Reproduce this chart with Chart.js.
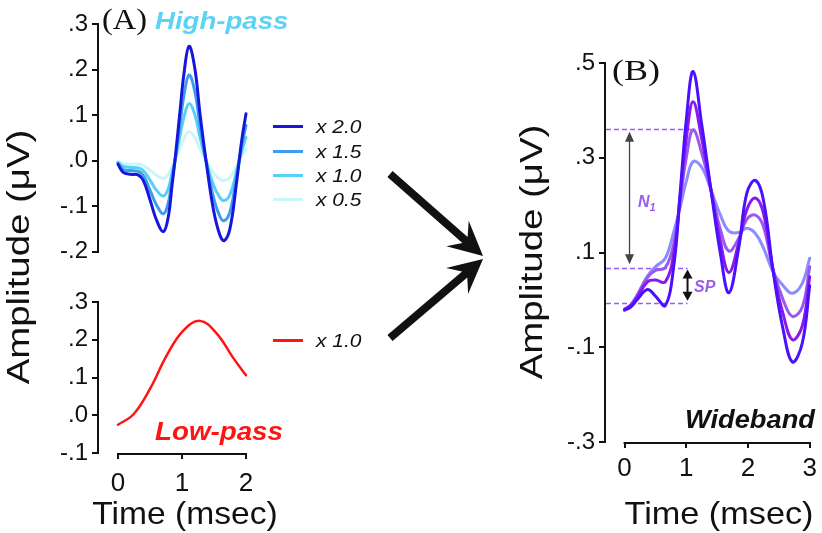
<!DOCTYPE html>
<html lang="en">
  <head>
    <meta charset="UTF-8" />
    <title>High-pass + low-pass = wideband</title>
    <style>
      * {
        margin: 0;
        padding: 0;
        box-sizing: border-box;
      }
      body {
        width: 822px;
        height: 533px;
        position: relative;
        overflow: hidden;
        background: #fff;
        font-family: "Liberation Sans", Arial, sans-serif;
        color: #111;
      }
      canvas,
      svg {
        position: absolute;
      }
      .txt {
        position: absolute;
        white-space: nowrap;
        line-height: 1;
        transform-origin: left center;
      }
      .bi {
        font-weight: bold;
        font-style: italic;
      }
      .serif {
        font-family: "Liberation Serif", "Times New Roman", serif;
      }
      .axisTitle {
        width: 300px;
        text-align: center;
        font-size: 32px;
        transform-origin: center center;
      }
      .key {
        position: absolute;
        left: 273px;
        width: 30px;
        height: 3px;
      }
      .keyTxt {
        left: 316px;
        font-size: 19px;
        font-style: italic;
        transform: scaleX(1.1);
      }
    </style>
  </head>
  <body>
    <canvas id="hpChart" width="270" height="270" style="left: 0; top: 0"></canvas>
    <canvas id="lpChart" width="270" height="263" style="left: 0; top: 270px"></canvas>
    <canvas id="wbChart" width="332" height="533" style="left: 490px; top: 0"></canvas>
    <svg id="arrows" width="822" height="533" style="left: 0; top: 0"></svg>

    <div class="txt serif" style="left: 102px; top: 4px; font-size: 30px; transform: scaleX(1.08)">(A)</div>
    <div class="txt bi" style="left: 155px; top: 9px; font-size: 24px; color: #5dd3f3; transform: scaleX(1.15)">High-pass</div>
    <div class="txt bi" style="left: 155px; top: 419px; font-size: 25px; color: #ff1414; transform: scaleX(1.11)">Low-pass</div>
    <div class="txt serif" style="left: 612px; top: 55px; font-size: 30px; transform: scaleX(1.2)">(B)</div>
    <div class="txt bi" style="left: 685px; top: 407px; font-size: 25px; transform: scaleX(1.09)">Wideband</div>
    <div class="txt bi" style="left: 638px; top: 194px; font-size: 16px; color: #9b5cf0">N<span style="font-size: 11px; vertical-align: -4px">1</span></div>
    <div class="txt bi" style="left: 694px; top: 279px; font-size: 16px; color: #9b5cf0">SP</div>

    <div class="txt axisTitle" style="left: -132px; top: 241px; transform: rotate(-90deg) scaleX(1.2)">Amplitude (μV)</div>
    <div class="txt axisTitle" style="left: 381px; top: 236px; transform: rotate(-90deg) scaleX(1.2)">Amplitude (μV)</div>
    <div class="txt axisTitle" style="left: 35px; top: 497px; transform: scaleX(1.05)">Time (msec)</div>
    <div class="txt axisTitle" style="left: 569px; top: 497px; transform: scaleX(1.07)">Time (msec)</div>

    <div class="key" style="top: 124.5px; background: #1616dc"></div>
    <div class="key" style="top: 149.5px; background: #3c9df0"></div>
    <div class="key" style="top: 173.5px; background: #57cff6"></div>
    <div class="key" style="top: 197.5px; background: #c9f5fb"></div>
    <div class="key" style="top: 338.5px; background: #ff1414"></div>
    <div class="txt keyTxt" style="top: 117px">x 2.0</div>
    <div class="txt keyTxt" style="top: 142px">x 1.5</div>
    <div class="txt keyTxt" style="top: 166px">x 1.0</div>
    <div class="txt keyTxt" style="top: 190px">x 0.5</div>
    <div class="txt keyTxt" style="top: 331px">x 1.0</div>

    <script src="https://cdn.jsdelivr.net/npm/chart.js"></script>
    <script>
      // high-pass components (msec, uV)
      const hpTime = [0, 0.08, 0.2, 0.32, 0.4, 0.5, 0.6, 0.71, 0.79, 0.84, 0.89, 0.97, 1.03, 1.11, 1.2, 1.28, 1.38, 1.49, 1.59, 1.66, 1.75, 1.85, 1.93, 2.0];
      const hpX20 = [-0.008, -0.026, -0.03, -0.032, -0.045, -0.086, -0.13, -0.156, -0.12, -0.06, 0.0, 0.11, 0.19, 0.251, 0.203, 0.104, -0.005, -0.107, -0.163, -0.176, -0.149, -0.051, 0.041, 0.103];
      const hpX15 = [-0.006, -0.02, -0.022, -0.024, -0.034, -0.065, -0.097, -0.117, -0.09, -0.045, 0.0, 0.083, 0.143, 0.188, 0.152, 0.078, -0.004, -0.08, -0.122, -0.132, -0.112, -0.038, 0.031, 0.077];
      const hpX10 = [-0.004, -0.013, -0.015, -0.016, -0.023, -0.043, -0.065, -0.078, -0.06, -0.03, 0.0, 0.055, 0.095, 0.125, 0.101, 0.052, -0.003, -0.053, -0.081, -0.088, -0.075, -0.025, 0.02, 0.051];
      const hpX05 = [-0.002, -0.007, -0.008, -0.008, -0.011, -0.021, -0.032, -0.039, -0.03, -0.015, 0.0, 0.028, 0.048, 0.063, 0.051, 0.026, -0.001, -0.027, -0.041, -0.044, -0.037, -0.013, 0.01, 0.026];

      // low-pass component
      const lpTime = [0, 0.24, 0.5, 0.76, 1.02, 1.28, 1.54, 1.8, 2.0];
      const lpX10 = [-0.025, 0.002, 0.07, 0.158, 0.224, 0.25, 0.217, 0.152, 0.106];

      // wideband sums
      const wbTime = [0, 0.1, 0.2, 0.37, 0.5, 0.66, 0.8, 0.9, 1.0, 1.11, 1.25, 1.4, 1.55, 1.69, 1.85, 1.98, 2.12, 2.25, 2.41, 2.57, 2.72, 2.88, 3.0];
      const wbX20 = [-0.022, -0.015, 0.0, 0.022, 0.008, -0.012, 0.075, 0.225, 0.38, 0.482, 0.37, 0.232, 0.1, 0.015, 0.11, 0.225, 0.252, 0.211, 0.058, -0.063, -0.131, -0.091, 0.03];
      const wbX15 = [-0.02, -0.012, 0.005, 0.038, 0.042, 0.038, 0.1, 0.218, 0.34, 0.418, 0.34, 0.232, 0.125, 0.058, 0.12, 0.19, 0.215, 0.183, 0.06, -0.03, -0.084, -0.055, 0.049];
      const wbX10 = [-0.02, -0.011, 0.008, 0.047, 0.062, 0.068, 0.12, 0.21, 0.3, 0.359, 0.31, 0.232, 0.15, 0.103, 0.13, 0.17, 0.179, 0.155, 0.062, 0.0, -0.035, -0.015, 0.07];
      const wbX05 = [-0.02, -0.01, 0.01, 0.05, 0.07, 0.088, 0.145, 0.195, 0.25, 0.292, 0.28, 0.232, 0.18, 0.145, 0.142, 0.151, 0.14, 0.11, 0.058, 0.03, 0.014, 0.035, 0.088];

      // tick labels
      const hpTicks = [-0.2, -0.1, 0, 0.1, 0.2, 0.3];
      const lpTicks = [-0.1, 0, 0.1, 0.2, 0.3];
      const wbTicks = [-0.3, -0.1, 0.1, 0.3, 0.5];
      const leftTimeTicks = [0, 1, 2];
      const wbTimeTicks = [0, 1, 2, 3];

      // N1 / SP measurement levels
      const guideLevels = [0.361, 0.068, -0.006];
      const guideEnds = [1.11, 1.02, 1.02];
      const n1Span = [0.355, 0.075];
      const spSpan = [0.064, -0.002];

      Chart.defaults.font.family = '"Liberation Sans", Arial, sans-serif';
      Chart.defaults.color = "#111";

      function fmtTick(v) {
        const s = Math.abs(v).toFixed(1).replace(/^0/, "");
        return (v < -1e-9 ? "-" : "") + s;
      }

      function lineSet(label, times, vals, color, width) {
        return {
          label: label,
          data: times.map((t, i) => ({ x: t, y: vals[i] })),
          borderColor: color,
          borderWidth: width,
          pointRadius: 0,
          showLine: true,
          fill: false,
          tension: 0.4,
          borderCapStyle: "round",
          borderJoinStyle: "round",
        };
      }

      function yScale(min, max, ticks, width) {
        return {
          type: "linear",
          min: min,
          max: max,
          afterBuildTicks: (s) => {
            s.ticks = ticks.map((v) => ({ value: v }));
          },
          afterFit: (s) => {
            s.width = width;
          },
          border: { display: true, color: "#111", width: 2 },
          grid: { drawOnChartArea: false, drawTicks: true, tickLength: 6, color: "#111", lineWidth: 2 },
          ticks: { font: { size: 24 }, padding: 4, autoSkip: false, callback: fmtTick },
        };
      }

      function xScale(min, max, ticks, height, pad) {
        return {
          type: "linear",
          min: min,
          max: max,
          display: ticks.length > 0,
          afterBuildTicks: (s) => {
            s.ticks = ticks.map((v) => ({ value: v }));
          },
          afterFit: (s) => {
            s.height = height;
          },
          border: { display: false },
          grid: { drawOnChartArea: false, drawTicks: true, tickLength: 6, color: "#111", lineWidth: 2 },
          ticks: { font: { size: 26 }, padding: pad, autoSkip: false, maxRotation: 0, callback: (v) => String(v) },
        };
      }

      // x axis that only runs over the data range, detached from the y axis
      const spanAxis = {
        id: "spanAxis",
        afterDraw(chart, args, opts) {
          if (opts.to === undefined) return;
          const { ctx, chartArea, scales: { x } } = chart;
          ctx.save();
          ctx.strokeStyle = "#111";
          ctx.lineWidth = 2;
          ctx.beginPath();
          ctx.moveTo(x.getPixelForValue(opts.from) - 1, chartArea.bottom + 1);
          ctx.lineTo(x.getPixelForValue(opts.to) + 1, chartArea.bottom + 1);
          ctx.stroke();
          ctx.restore();
        },
      };

      function doubleArrow(ctx, px, y1, y2, color, lw, hl, hw) {
        ctx.save();
        ctx.strokeStyle = color;
        ctx.fillStyle = color;
        ctx.lineWidth = lw;
        ctx.beginPath();
        ctx.moveTo(px, y1 + hl - 1);
        ctx.lineTo(px, y2 - hl + 1);
        ctx.stroke();
        ctx.beginPath();
        ctx.moveTo(px, y1);
        ctx.lineTo(px - hw, y1 + hl);
        ctx.lineTo(px + hw, y1 + hl);
        ctx.closePath();
        ctx.fill();
        ctx.beginPath();
        ctx.moveTo(px, y2);
        ctx.lineTo(px - hw, y2 - hl);
        ctx.lineTo(px + hw, y2 - hl);
        ctx.closePath();
        ctx.fill();
        ctx.restore();
      }

      const wbGuides = {
        id: "wbGuides",
        beforeDatasetsDraw(chart) {
          const { ctx, chartArea, scales: { x, y } } = chart;
          ctx.save();
          ctx.strokeStyle = "#9b5cff";
          ctx.lineWidth = 1.5;
          ctx.setLineDash([5, 3]);
          guideLevels.forEach((lv, i) => {
            const py = Math.round(y.getPixelForValue(lv)) + 0.5;
            ctx.beginPath();
            ctx.moveTo(chartArea.left + 1, py);
            ctx.lineTo(x.getPixelForValue(guideEnds[i]), py);
            ctx.stroke();
          });
          ctx.restore();
        },
        afterDatasetsDraw(chart) {
          const { ctx, scales: { x, y } } = chart;
          doubleArrow(ctx, x.getPixelForValue(0.08), y.getPixelForValue(n1Span[0]), y.getPixelForValue(n1Span[1]), "#444", 1.3, 10, 4.5);
          doubleArrow(ctx, x.getPixelForValue(1.02), y.getPixelForValue(spSpan[0]), y.getPixelForValue(spSpan[1]), "#111", 2, 9, 5);
        },
      };

      const common = {
        responsive: false,
        animation: false,
        events: [],
        plugins: { legend: { display: false }, tooltip: { enabled: false } },
      };

      new Chart(document.getElementById("hpChart"), {
        type: "scatter",
        data: {
          datasets: [
            lineSet("x 2.0", hpTime, hpX20, "#1616dc", 3),
            lineSet("x 1.5", hpTime, hpX15, "#3c9df0", 3),
            lineSet("x 1.0", hpTime, hpX10, "#57cff6", 3),
            lineSet("x 0.5", hpTime, hpX05, "#c9f5fb", 3),
          ],
        },
        options: {
          ...common,
          layout: { padding: { top: 24, right: 20, bottom: 10, left: 0 } },
          scales: {
            x: xScale(-0.3125, 2.0625, [], 0, 0),
            y: yScale(-0.2, 0.3, hpTicks, 98),
          },
        },
      });

      new Chart(document.getElementById("lpChart"), {
        type: "scatter",
        data: { datasets: [lineSet("x 1.0", lpTime, lpX10, "#ff1414", 2.5)] },
        options: {
          ...common,
          plugins: { ...common.plugins, spanAxis: { from: 0, to: 2 } },
          layout: { padding: { top: 32, right: 20, bottom: 0, left: 0 } },
          scales: {
            x: xScale(-0.3125, 2.0625, leftTimeTicks, 80, 9),
            y: yScale(-0.1, 0.3, lpTicks, 98),
          },
        },
        plugins: [spanAxis],
      });

      new Chart(document.getElementById("wbChart"), {
        type: "scatter",
        data: {
          datasets: [
            lineSet("x 2.0", wbTime, wbX20, "#4a10ff", 3),
            lineSet("x 1.5", wbTime, wbX15, "#8a18ec", 3),
            lineSet("x 1.0", wbTime, wbX10, "#9a58f0", 3),
            lineSet("x 0.5", wbTime, wbX05, "#8a8cff", 3),
          ],
        },
        options: {
          ...common,
          plugins: { ...common.plugins, spanAxis: { from: 0, to: 3 } },
          layout: { padding: { top: 63, right: 4, bottom: 0, left: 0 } },
          scales: {
            x: xScale(-0.3175, 3.063, wbTimeTicks, 91, 5),
            y: yScale(-0.3, 0.5, wbTicks, 115),
          },
        },
        plugins: [spanAxis, wbGuides],
      });

      // the two block arrows between the panels
      function bigArrow(x1, y1, x2, y2) {
        const len = Math.hypot(x2 - x1, y2 - y1);
        const ux = (x2 - x1) / len,
          uy = (y2 - y1) / len;
        const nx = -uy,
          ny = ux;
        const sw = 4,
          hl = 34,
          hw = 17,
          nk = 24;
        const pts = [
          [x1 + nx * sw, y1 + ny * sw],
          [x2 - ux * nk + nx * sw, y2 - uy * nk + ny * sw],
          [x2 - ux * hl + nx * hw, y2 - uy * hl + ny * hw],
          [x2, y2],
          [x2 - ux * hl - nx * hw, y2 - uy * hl - ny * hw],
          [x2 - ux * nk - nx * sw, y2 - uy * nk - ny * sw],
          [x1 - nx * sw, y1 - ny * sw],
        ];
        return pts.map((p) => p[0].toFixed(1) + "," + p[1].toFixed(1)).join(" ");
      }
      const svg = document.getElementById("arrows");
      svg.innerHTML =
        '<polygon fill="#111" points="' + bigArrow(390, 174, 483, 256) + '"/>' +
        '<polygon fill="#111" points="' + bigArrow(390, 338, 483, 259) + '"/>';
    </script>
  </body>
</html>
